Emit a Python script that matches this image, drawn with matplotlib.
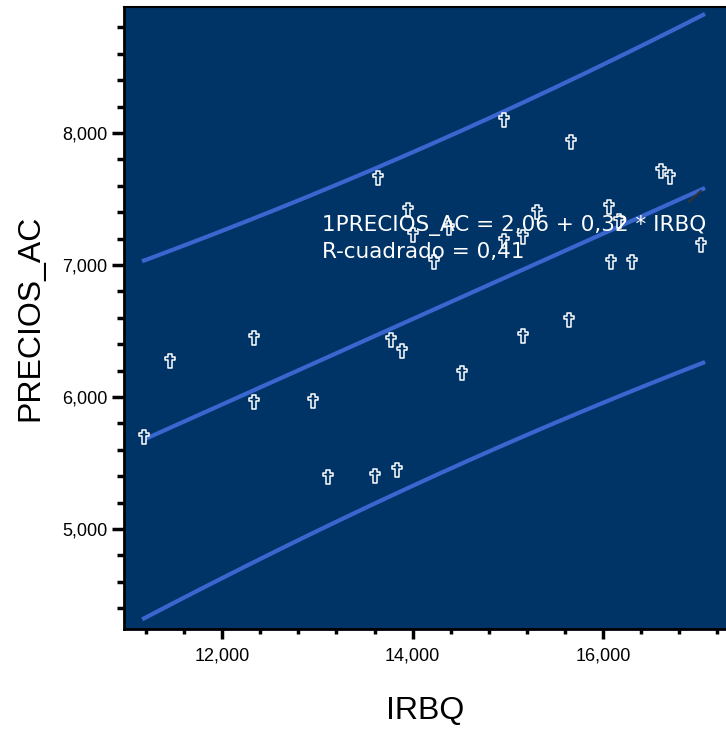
import numpy as np
import matplotlib.pyplot as plt
from matplotlib.path import Path
from matplotlib.ticker import MultipleLocator, FuncFormatter

plt.rcParams['font.family'] = ['Liberation Sans', 'DejaVu Sans']

# IRBQ / PRECIOS_AC
irbq = [11.18, 11.45, 12.33, 12.33, 12.95, 13.11, 13.60, 13.84, 13.77, 13.89,
        14.52, 15.16, 15.64, 13.64, 13.95, 14.00, 14.22, 14.38, 14.96, 14.96,
        15.16, 15.31, 15.66, 16.06, 16.17, 16.08, 16.30, 16.61, 16.70, 17.03]
precios_ac = [5.70, 6.27, 6.45, 5.96, 5.97, 5.39, 5.40, 5.45, 6.43, 6.35,
              6.18, 6.46, 6.58, 7.66, 7.42, 7.23, 7.02, 7.28, 8.10, 7.18,
              7.21, 7.40, 7.93, 7.44, 7.33, 7.02, 7.02, 7.71, 7.67, 7.15]

# recta ajustada tal como aparece dibujada (texto: 2,06 + 0,32 * IRBQ)
b0 = 2.06
b1 = 0.3236
resid_se = 0.606
t_val = 2.048

intercept_txt = "2,06"
slope_txt = "0,32"
r2_txt = "0,41"

x = np.array(irbq)
y = np.array(precios_ac)
n = len(x)
xs = np.linspace(x.min(), 17.05, 200)
yhat = b0 + b1 * xs
half = t_val * resid_se * np.sqrt(1 + 1 / n + (xs - x.mean()) ** 2 / np.sum((x - x.mean()) ** 2))

# marcador en forma de cruz latina
verts = [(-1.6, 6.5), (1.6, 6.5), (1.6, 3.6), (5, 3.6), (5, 0.6), (1.6, 0.6),
         (1.6, -6.5), (-1.6, -6.5), (-1.6, 0.6), (-5, 0.6), (-5, 3.6), (-1.6, 3.6),
         (-1.6, 6.5)]
cross = Path(verts, [Path.MOVETO] + [Path.LINETO] * 11 + [Path.CLOSEPOLY])

navy = '#003366'
blue = '#3a66d0'

fig = plt.figure(figsize=(7.26, 7.29), dpi=100)
ax = fig.add_axes([0.1708, 0.1372, 0.8292, 0.8532])
ax.set_facecolor(navy)

ax.plot(xs, yhat, color=blue, lw=3, zorder=2)
ax.plot(xs, yhat + half, color=blue, lw=3, zorder=2)
ax.plot(xs, yhat - half, color=blue, lw=3, zorder=2)
ax.annotate('', xy=(xs[-1], yhat[-1]), xytext=(-12, -11), textcoords='offset points',
            arrowprops=dict(arrowstyle='-', color='#333333', lw=1.5), zorder=2)

ax.plot(x, y, linestyle='none', marker=cross, markersize=9.6, markerfacecolor=navy,
        markeredgecolor='white', markeredgewidth=1.1, zorder=3)

ax.text(13.047, 7.258, f"1PRECIOS_AC = {intercept_txt} + {slope_txt} * IRBQ",
        color='white', fontsize=15.5, family='DejaVu Sans', va='baseline', ha='left', zorder=4)
ax.text(13.047, 7.053, f"R-cuadrado = {r2_txt}",
        color='white', fontsize=15.5, family='DejaVu Sans', va='baseline', ha='left', zorder=4)

ax.set_xlim(10.97, 17.29)
ax.set_ylim(4.242, 8.955)

fmt = FuncFormatter(lambda v, p: f"{v:.3f}".replace('.', ','))
ax.xaxis.set_major_locator(MultipleLocator(2))
ax.xaxis.set_minor_locator(MultipleLocator(0.4))
ax.yaxis.set_major_locator(MultipleLocator(1))
ax.yaxis.set_minor_locator(MultipleLocator(0.2))
ax.xaxis.set_major_formatter(fmt)
ax.yaxis.set_major_formatter(fmt)

ax.tick_params(axis='x', which='major', length=7, width=2.5, pad=6, labelsize=13)
ax.tick_params(axis='x', which='minor', length=3.6, width=2.5)
ax.tick_params(axis='y', which='major', length=8.5, width=2.5, pad=3.5, labelsize=13)
ax.tick_params(axis='y', which='minor', length=5, width=2.5)

ax.spines['right'].set_visible(False)
ax.spines['left'].set_linewidth(2)
ax.spines['bottom'].set_linewidth(2)
ax.spines['top'].set_linewidth(1.5)

ax.set_xlabel('IRBQ', fontsize=23, labelpad=23)
ax.set_ylabel('PRECIOS_AC', fontsize=23, labelpad=12)

fig.savefig('out.png', dpi=100)
